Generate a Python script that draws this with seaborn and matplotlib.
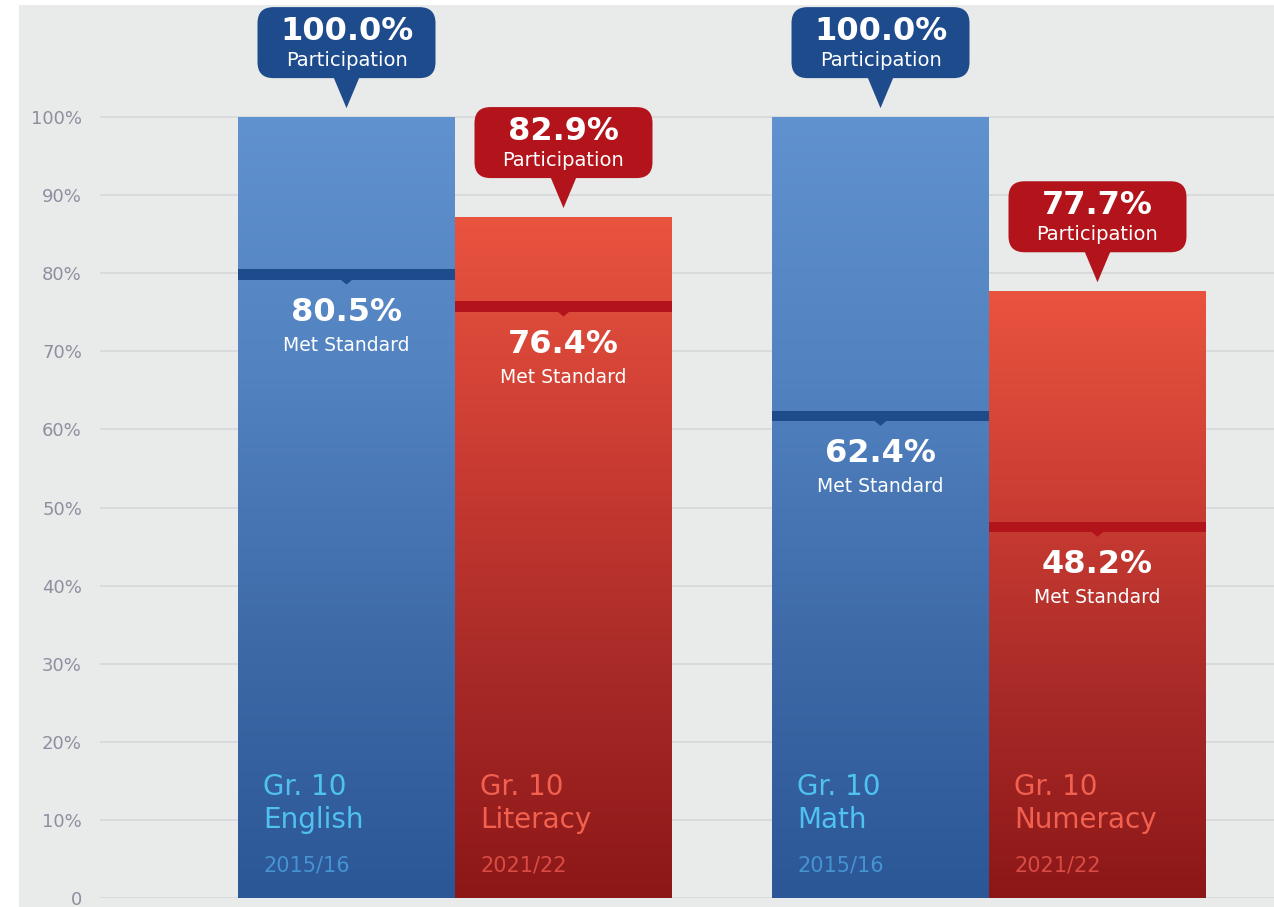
import numpy as np
import pandas as pd
import matplotlib
matplotlib.use("Agg")
import matplotlib.pyplot as plt
import seaborn as sns
from matplotlib.patches import FancyBboxPatch, Polygon, Rectangle
from matplotlib.colors import LinearSegmentedColormap

# ---------------- data ----------------
subjects = ["English", "Literacy", "Math", "Numeracy"]
pairs = ["ELA", "ELA", "Math", "Math"]
years = ["2015/16", "2021/22", "2015/16", "2021/22"]
participation = [100.0, 82.9, 100.0, 77.7]
bar_heights = [100.0, 87.2, 100.0, 77.7]   # heights as drawn in the picture
met_standard = [80.5, 76.4, 62.4, 48.2]
y_ticks = [0, 10, 20, 30, 40, 50, 60, 70, 80, 90, 100]
y_tick_labels = ["0", "10%", "20%", "30%", "40%", "50%", "60%", "70%", "80%", "90%", "100%"]

df = pd.DataFrame({"subject": subjects, "pair": pairs, "year": years,
                   "height": bar_heights, "participation": participation,
                   "met": met_standard})

# ---------------- styles ----------------
BG = "#e9eaea"
year_style = {
    "2015/16": dict(stops=["#2b5797", "#3e6aa8", "#5282c0", "#6092cf"],
                    dark="#1e4b8c", label="#4fc2f0", year="#4a9edb"),
    "2021/22": dict(stops=["#8c1717", "#a82a28", "#cc3d33", "#e9543f"],
                    dark="#b3141c", label="#f2604f", year="#e5554c"),
}

sns.set_style("white")
plt.rcParams["font.family"] = ["DejaVu Sans"]

W, H = 1274, 907
fig = plt.figure(figsize=(W / 100, H / 100), dpi=100, facecolor="white")
fig.patches.append(Rectangle((19 / W, 0), 1 - 19 / W, 902 / H,
                             transform=fig.transFigure, facecolor=BG,
                             edgecolor="none", zorder=-10))
ax = fig.add_axes([100 / W, 9 / H, 1174 / W, 898 / H])
ax.set_facecolor("none")

sns.barplot(data=df, x="pair", y="height", hue="year",
            order=["ELA", "Math"], hue_order=["2015/16", "2021/22"],
            palette={k: v["stops"][-1] for k, v in year_style.items()},
            width=0.8127, saturation=1, edgecolor="none", linewidth=0,
            legend=False, ax=ax, zorder=2)

XL = (-0.6648, 1.5337)
YL = (0, 115.0)
ax.set_xlim(*XL)
ax.set_ylim(*YL)

for s in ax.spines.values():
    s.set_visible(False)
ax.set_xticks([])
ax.set_xlabel("")
ax.set_ylabel("")
ax.set_yticks(y_ticks, y_tick_labels)
ax.tick_params(axis="y", length=0, pad=13, labelsize=13, labelcolor="#8f8ea0")
ax.yaxis.grid(True, color="#d7d9da", linewidth=1.3)
ax.set_axisbelow(True)

# pixel scales
px_x = (1174) / (XL[1] - XL[0])
px_y = (898) / (YL[1] - YL[0])
aspect = px_x / px_y

bars = sorted([p for p in ax.patches], key=lambda p: p.get_x())
grad = np.linspace(0, 1, 256).reshape(-1, 1)

for bar, (_, row) in zip(bars, df.iterrows()):
    st = year_style[row["year"]]
    x0, w, h = bar.get_x(), bar.get_width(), bar.get_height()
    x1 = x0 + w
    xc = x0 + w / 2
    cmap = LinearSegmentedColormap.from_list("g", st["stops"])
    ax.imshow(grad, extent=[x0, x1, 0, h], origin="lower", aspect="auto",
              cmap=cmap, zorder=3, interpolation="bicubic")

    # met standard band
    m = row["met"]
    band = 1.3
    ax.add_patch(Rectangle((x0, m - band), w, band, facecolor=st["dark"],
                           edgecolor="none", zorder=4))
    nw = 12 / px_x
    ax.add_patch(Polygon([[xc - nw / 2, m - band], [xc + nw / 2, m - band],
                          [xc, m - band - 5 / px_y]], closed=True,
                         facecolor=st["dark"], edgecolor="none", zorder=4))
    ax.text(xc, m - band / 2 - 38 / px_y, f"{m:.1f}%", ha="center", va="center",
            color="white", fontsize=23, fontweight="bold", zorder=6)
    ax.text(xc, m - band / 2 - 71 / px_y, "Met Standard", ha="center",
            va="center", color="white", fontsize=13.5, zorder=6)

    # participation callout
    tip = h + 9 / px_y
    bb = tip + 30 / px_y
    bh = 71 / px_y
    bw = 178 / px_x
    r = 16 / px_x
    box = FancyBboxPatch((xc - bw / 2, bb), bw, bh,
                         boxstyle=f"round,pad=0,rounding_size={r}",
                         mutation_aspect=aspect, facecolor=st["dark"],
                         edgecolor="none", zorder=5, clip_on=False)
    ax.add_patch(box)
    pw = 26 / px_x
    ax.add_patch(Polygon([[xc - pw / 2, bb + 1 / px_y], [xc + pw / 2, bb + 1 / px_y],
                          [xc, tip]], closed=True, facecolor=st["dark"],
                         edgecolor="none", zorder=5))
    ax.text(xc, bb + 47 / px_y, f"{row['participation']:.1f}%", ha="center",
            va="center", color="white", fontsize=23, fontweight="bold", zorder=6)
    ax.text(xc, bb + 18 / px_y, "Participation", ha="center", va="center",
            color="white", fontsize=14, zorder=6)

    # bottom labels
    lx = x0 + 25 / px_x
    ax.text(lx, 14.2, "Gr. 10", ha="left", va="center", color=st["label"],
            fontsize=20, zorder=6)
    ax.text(lx, 10.0, row["subject"], ha="left", va="center", color=st["label"],
            fontsize=20, zorder=6)
    ax.text(lx, 4.1, row["year"], ha="left", va="center", color=st["year"],
            fontsize=15, alpha=0.85, zorder=6)

ax.set_xlim(*XL)
ax.set_ylim(*YL)

fig.savefig("out.png", dpi=100, facecolor=fig.get_facecolor())
